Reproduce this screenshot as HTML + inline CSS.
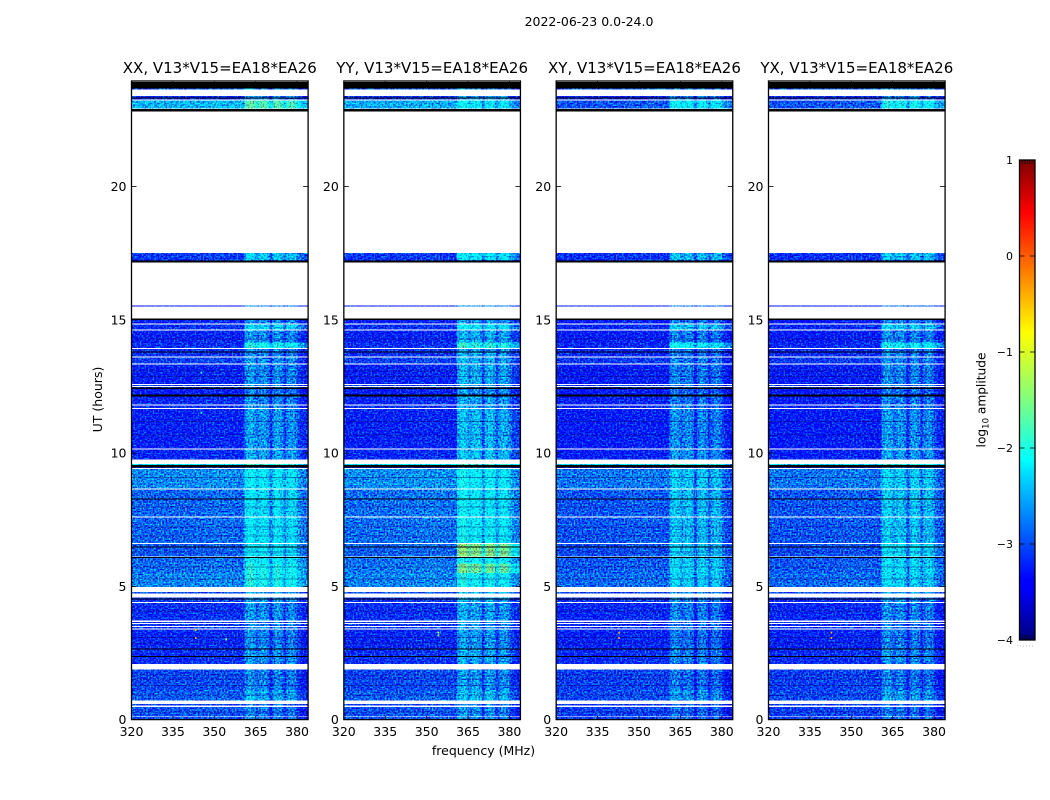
<!DOCTYPE html>
<html>
<head>
<meta charset="utf-8">
<title>2022-06-23 0.0-24.0</title>
<style>
html,body{margin:0;padding:0;background:#fff;}
#chart{display:block;}
text{font-family:"DejaVu Sans","Liberation Sans",sans-serif;fill:#000;}
</style>
</head>
<body>
<svg id="chart" width="1050" height="800" viewBox="0 0 1050 800" xmlns="http://www.w3.org/2000/svg">
  <defs>
    <linearGradient id="jet-gradient" x1="0" y1="1" x2="0" y2="0">
      <stop offset="0" stop-color="#00007f"/>
      <stop offset="0.11" stop-color="#0000ff"/>
      <stop offset="0.125" stop-color="#0000ff"/>
      <stop offset="0.35" stop-color="#00e0ff"/>
      <stop offset="0.375" stop-color="#00ffff"/>
      <stop offset="0.5" stop-color="#7fff7f"/>
      <stop offset="0.64" stop-color="#ffff00"/>
      <stop offset="0.89" stop-color="#ff0000"/>
      <stop offset="1" stop-color="#7f0000"/>
    </linearGradient>
    <filter id="speckle" filterUnits="userSpaceOnUse" x="120" y="70" width="840" height="660" color-interpolation-filters="sRGB">
      <feTurbulence type="fractalNoise" baseFrequency="0.62" numOctaves="1" seed="4" result="raw"/>
      <feColorMatrix in="raw" type="matrix" values="0 0 0 0 0.5  2.4 0 0 0 -0.7  0.7 0 0 0 0.15  0 0 0 0 1" result="noise"/>
      <feComposite in="SourceGraphic" in2="noise" operator="arithmetic" k1="0" k2="1" k3="1" k4="-0.5" result="mixed"/>
      <feComposite in="mixed" in2="SourceAlpha" operator="in"/>
    </filter>
  </defs>
  <text x="589" y="26" font-size="12.5" text-anchor="middle">2022-06-23 0.0-24.0</text>
  <text x="483.5" y="755" font-size="12.5" text-anchor="middle">frequency (MHz)</text>
  <text x="0" y="0" font-size="12.5" text-anchor="middle" transform="translate(102 399.5) rotate(-90)">UT (hours)</text>
  <g id="panels"></g>
  <g id="colorbar"></g>
</svg>
<script>
// ---- chart data ----
const polarisations = ['XX', 'YY', 'XY', 'YX'];
const titleSuffix = ', V13*V15=EA18*EA26';
const freqTicks = [320, 335, 350, 365, 380];
const timeTicks = [0, 5, 10, 15, 20];
const colorTicks = [1, 0, -1, -2, -3, -4];

// Time bands with valid data (UT hours); anything not covered stays white.
const bandStart = [0.00,0.12,0.52,0.72,1.10,2.08,2.65,3.42,3.52,3.62,3.71,4.42,4.73,4.98,5.50,5.85,6.12,6.62,7.62,8.67,9.45,9.56,9.76,10.17,11.70,11.82,12.18,12.44,12.52,12.60,13.36,13.62,13.95,14.15,14.64,14.87,15.50,17.18,17.25,22.93,23.27,23.65];
const bandEnd   = [0.09,0.48,0.58,1.10,1.88,2.65,3.38,3.48,3.58,3.67,4.38,4.58,4.78,5.50,5.85,6.08,6.58,7.58,8.63,9.41,9.56,9.60,10.13,11.66,11.78,12.12,12.42,12.48,12.56,13.32,13.58,13.91,14.15,14.60,14.83,15.06,15.54,17.24,17.50,23.23,23.40,23.68];

// log10 amplitude outside the interference zone, one value per band
const quietXX = [-3.0,-3.0,-3.1,-2.95,-3.05,-3.2,-3.25,-3.15,-3.15,-3.15,-3.2,-3.15,-3.05,-2.75,-2.85,-2.9,-2.95,-2.9,-2.9,-2.72,-3.2,-2.2,-3.25,-3.28,-3.2,-3.25,-3.32,-3.1,-3.1,-3.28,-3.1,-3.2,-3.2,-3.28,-3.2,-3.3,-3.4,-3.2,-3.15,-2.5,-3.2,-3.0];
const quietYY = [-3.0,-3.0,-3.1,-2.95,-3.05,-3.2,-3.25,-3.15,-3.15,-3.15,-3.2,-3.15,-3.05,-2.75,-2.8,-2.85,-2.9,-2.85,-2.85,-2.7,-3.2,-2.2,-3.25,-3.28,-3.2,-3.25,-3.32,-3.1,-3.1,-3.28,-3.1,-3.2,-3.2,-3.28,-3.2,-3.3,-3.4,-3.2,-3.15,-2.55,-3.2,-3.0];
const quietXY = [-3.1,-3.1,-3.15,-3.05,-3.1,-3.22,-3.28,-3.2,-3.2,-3.2,-3.25,-3.2,-3.1,-2.88,-2.95,-2.98,-3.02,-2.98,-2.98,-2.82,-3.25,-2.3,-3.3,-3.32,-3.25,-3.3,-3.35,-3.15,-3.15,-3.32,-3.15,-3.25,-3.25,-3.32,-3.25,-3.35,-3.4,-3.25,-3.2,-3.0,-3.25,-3.0];
const quietYX = [-3.1,-3.1,-3.15,-3.05,-3.1,-3.22,-3.28,-3.2,-3.2,-3.2,-3.25,-3.2,-3.1,-2.88,-2.95,-2.98,-3.02,-2.98,-2.98,-2.82,-3.25,-2.3,-3.3,-3.32,-3.25,-3.3,-3.35,-3.15,-3.15,-3.32,-3.15,-3.25,-3.25,-3.32,-3.25,-3.35,-3.4,-3.25,-3.2,-3.0,-3.25,-3.0];

// log10 amplitude inside the interference zone, one value per band
const rfiXX = [-2.97,-2.97,-3.05,-2.72,-2.92,-2.87,-2.92,-2.92,-2.92,-2.92,-2.87,-2.82,-2.72,-2.2,-2.2,-2.35,-2.4,-2.4,-2.45,-2.35,-2.9,-2.0,-2.77,-2.82,-2.87,-2.92,-2.97,-2.92,-2.92,-2.87,-2.87,-2.92,-2.2,-2.87,-2.5,-2.92,-2.92,-3.0,-2.55,-1.95,-2.92,-2.8];
const rfiYY = [-2.87,-2.87,-2.95,-2.62,-2.82,-2.77,-2.82,-2.82,-2.82,-2.82,-2.77,-2.72,-2.62,-2.25,-1.8,-2.3,-1.7,-2.3,-2.35,-2.3,-2.8,-2.0,-2.62,-2.67,-2.77,-2.77,-2.87,-2.82,-2.82,-2.72,-2.72,-2.77,-2.1,-2.72,-2.4,-2.82,-2.82,-2.9,-2.35,-2.35,-2.82,-2.8];
const rfiXY = [-3.07,-3.07,-3.15,-2.82,-3.02,-2.97,-3.02,-3.02,-3.02,-3.02,-2.97,-2.92,-2.82,-2.55,-2.5,-2.6,-2.6,-2.65,-2.65,-2.6,-3.0,-2.1,-2.87,-2.92,-2.97,-3.02,-3.07,-3.02,-3.02,-2.97,-2.97,-3.02,-2.3,-2.97,-2.6,-3.02,-2.97,-3.1,-2.65,-2.35,-3.02,-2.8];
const rfiYX = [-3.02,-3.02,-3.1,-2.77,-2.97,-2.92,-2.97,-2.97,-2.97,-2.97,-2.92,-2.87,-2.77,-2.5,-2.45,-2.55,-2.45,-2.6,-2.6,-2.55,-2.95,-2.1,-2.82,-2.87,-2.92,-2.97,-3.02,-2.97,-2.97,-2.92,-2.92,-2.97,-2.25,-2.92,-2.55,-2.97,-2.97,-3.05,-2.6,-2.25,-2.97,-2.8];

// Channel centre frequencies (MHz) and each channel's offset from its band level
const channels = [320,321,322,323,324,325,326,327,328,329,330,331,332,333,334,335,336,337,338,339,340,341,342,343,344,345,346,347,348,349,350,351,352,353,354,355,356,357,358,359,360,361,362,363,364,365,366,367,368,369,370,371,372,373,374,375,376,377,378,379,380,381,382,383];
const channelOffset = [0,0.03,0,-0.02,0,0.02,0,-0.02,0,0,0.02,0,-0.02,0,0,0.02,0,0,0.02,0.02,0,0,0.02,0.02,0.03,0.02,0.03,0.05,0.04,0.05,0.06,0.05,0.05,0.06,0.04,0.04,0.03,0.02,0.02,0,0,0.15,0.28,0.3,0.2,0,0.15,0.22,0.22,0.08,-0.35,0.1,0.25,0.22,0.1,-0.28,0.05,0.18,0.18,0.05,-0.2,-0.35,-0.4,-0.45];
const rfiStartMHz = [361];

// Fully flagged (black) time ranges, UT hours
const flaggedStart = [2.35,2.64,4.50,6.08,6.46,8.26,9.46,12.13,12.40,13.78,15.00,17.16,22.82,23.31,23.68];
const flaggedEnd   = [2.38,2.67,4.54,6.11,6.50,8.30,9.56,12.20,12.46,13.82,15.05,17.22,22.92,23.34,23.92];

// Times (UT hours) of faint darker scan lines running across the band
const dimTimes = [0.3,0.95,1.3,1.55,1.7,2.9,3.1,4.1,5.3,5.75,6.3,6.9,7.25,8.0,9.1,10.7,11.2,12.9,13.1,14.3];

// Isolated bright pixels: panel index, frequency, time, log10 amplitude
const spotPanel = [0,0,0,1,1,2,2,3,3,0,0];
const spotFreq  = [343,343,354,354,354,342.5,342.5,342.5,342.5,345,345];
const spotTime  = [3.4,3.1,3.05,3.2,3.3,3.3,3.1,3.3,3.1,11.55,13.05];
const spotValue = [-0.6,-0.4,-1.1,-1.2,-1.2,-0.5,-0.4,-0.5,-0.4,-1.9,-1.9];

const quietByPanel = [quietXX, quietYY, quietXY, quietYX];
const rfiByPanel = [rfiXX, rfiYY, rfiXY, rfiYX];

// ---- axis functions ----
const SVGNS = 'http://www.w3.org/2000/svg';
const panelWidth = 176.6, panelTop = 81, panelBottom = 719.6;
function panelLeft(k) { return 131.5 + k * 212.33; }
function xScale(k, mhz) { return panelLeft(k) + (mhz - 320) * 2.76; }
function yScale(h) { return panelBottom - h * 26.65; }
function cbarY(v) { return 640 - (v + 4) * 96; }
function jet(v) {
  const f = Math.max(0, Math.min(1, (v + 4) / 5));
  const ramp = function (x) { return Math.round(255 * Math.max(0, Math.min(1, x))); };
  const r = ramp(1.5 - Math.abs(4 * f - 3));
  const g = ramp(1.5 - Math.abs(4 * f - 2));
  const b = ramp(1.5 - Math.abs(4 * f - 1));
  return 'rgb(' + r + ',' + g + ',' + b + ')';
}
function make(tag, attrs, parent) {
  const el = document.createElementNS(SVGNS, tag);
  for (const key in attrs) el.setAttribute(key, attrs[key]);
  parent.appendChild(el);
  return el;
}

// ---- panels ----
const panelsRoot = document.getElementById('panels');
polarisations.forEach(function (pol, k) {
  const panel = make('g', {}, panelsRoot);
  
  

  const heat = make('g', { filter: 'url(#speckle)', 'shape-rendering': 'crispEdges' }, panel);
  
  

  bandStart.forEach(function (t0, j) {
    const top = yScale(bandEnd[j]);
    const h = Math.max(1, yScale(t0) - top);
    channels.forEach(function (mhz, i) {
      const level = mhz >= rfiStartMHz[0] ? rfiByPanel[k][j] : quietByPanel[k][j];
      const x0 = xScale(k, mhz);
      const x1 = i === channels.length - 1 ? panelLeft(k) + panelWidth : xScale(k, mhz + 1);
      const cell = make('rect', { x: x0, y: top, width: x1 - x0, height: h, fill: jet(level + channelOffset[i]) }, heat);
      
      
    });
  });

  dimTimes.forEach(function (t) {
    const dim = make('rect', { x: panelLeft(k), y: yScale(t), width: panelWidth, height: 1, fill: '#000060', 'fill-opacity': 0.38, 'shape-rendering': 'crispEdges' }, panel);
    
    
  });

  flaggedStart.forEach(function (t0, j) {
    const top = yScale(flaggedEnd[j]);
    const line = make('rect', { x: panelLeft(k), y: top, width: panelWidth, height: Math.max(1, yScale(t0) - top), fill: '#000', 'shape-rendering': 'crispEdges' }, panel);
    
    
  });

  spotPanel.forEach(function (p, j) {
    if (p !== k) return;
    const spot = make('rect', { x: xScale(k, spotFreq[j]), y: yScale(spotTime[j]), width: 1.6, height: 2, fill: jet(spotValue[j]) }, panel);
    
    
  });

  const frame = make('rect', { x: panelLeft(k), y: panelTop, width: panelWidth, height: panelBottom - panelTop, fill: 'none', stroke: '#000', 'stroke-width': 1.3 }, panel);
  
  

  const title = make('text', { x: panelLeft(k) + panelWidth / 2, y: 73, 'font-size': 15, 'text-anchor': 'middle' }, panel);
  title.textContent = pol + titleSuffix;
  
  

  freqTicks.forEach(function (mhz) {
    const x = xScale(k, mhz);
    const tickBottom = make('line', { x1: x, x2: x, y1: panelBottom, y2: panelBottom - 4, stroke: '#000', 'stroke-width': 0.8 }, panel);
    
    
    const tickTop = make('line', { x1: x, x2: x, y1: panelTop, y2: panelTop + 4, stroke: '#000', 'stroke-width': 0.8 }, panel);
    
    
    const label = make('text', { x: x, y: 736, 'font-size': 12.5, 'text-anchor': 'middle' }, panel);
    label.textContent = String(mhz);
    
    
  });

  timeTicks.forEach(function (h) {
    const y = yScale(h);
    const left = make('line', { x1: panelLeft(k), x2: panelLeft(k) + 5, y1: y, y2: y, stroke: '#000', 'stroke-width': 0.8 }, panel);
    
    
    const right = make('line', { x1: panelLeft(k) + panelWidth, x2: panelLeft(k) + panelWidth - 5, y1: y, y2: y, stroke: '#000', 'stroke-width': 0.8 }, panel);
    
    
    const label = make('text', { x: panelLeft(k) - 5, y: y + 4.5, 'font-size': 12.5, 'text-anchor': 'end' }, panel);
    label.textContent = String(h);
    
    
  });
});

// ---- colour bar ----
const cbarRoot = document.getElementById('colorbar');
const cbarLeft = 1019.5, cbarWidth = 15.5;
const cbarRect = make('rect', { x: cbarLeft, y: cbarY(1), width: cbarWidth, height: cbarY(-4) - cbarY(1), fill: 'url(#jet-gradient)', stroke: '#000', 'stroke-width': 1.3 }, cbarRoot);



colorTicks.forEach(function (v) {
  const y = cbarY(v);
  const tickL = make('line', { x1: cbarLeft, x2: cbarLeft + 5, y1: y, y2: y, stroke: '#000', 'stroke-width': 0.8 }, cbarRoot);
  
  
  const tickR = make('line', { x1: cbarLeft + cbarWidth, x2: cbarLeft + cbarWidth - 5, y1: y, y2: y, stroke: '#000', 'stroke-width': 0.8 }, cbarRoot);
  
  
  const label = make('text', { x: 1013, y: y + 3.8, 'font-size': 11, 'text-anchor': 'end' }, cbarRoot);
  label.textContent = String(v).replace('-', '\u2212');
  
  
});

const cbarMinor = [0, 1, 2, 3, 4];
cbarMinor.forEach(function (n) {
  const x = cbarLeft + 3 + n * 2.4;
  const a = make('line', { x1: x, x2: x, y1: cbarY(1), y2: cbarY(1) + 4, stroke: '#000', 'stroke-width': 0.7 }, cbarRoot);
  
  
  const b = make('line', { x1: x, x2: x, y1: cbarY(-4), y2: cbarY(-4) - 5, stroke: '#000', 'stroke-width': 0.7 }, cbarRoot);
  
  
});

const cbarDots = make('line', { x1: 1017, x2: 1035, y1: 646, y2: 646, stroke: '#bbb', 'stroke-width': 1, 'stroke-dasharray': '1 2' }, cbarRoot);



const cbarLabel = make('text', { 'font-size': 12.2, 'text-anchor': 'middle', transform: 'translate(985.5 400) rotate(-90)' }, cbarRoot);


const cbarLog = make('tspan', {}, cbarLabel);
cbarLog.textContent = 'log';
const cbarSub = make('tspan', { 'font-size': 8.5, dy: 3 }, cbarLabel);
cbarSub.textContent = '10';
const cbarRest = make('tspan', { dy: -3 }, cbarLabel);
cbarRest.textContent = ' amplitude';
</script>
</body>
</html>
